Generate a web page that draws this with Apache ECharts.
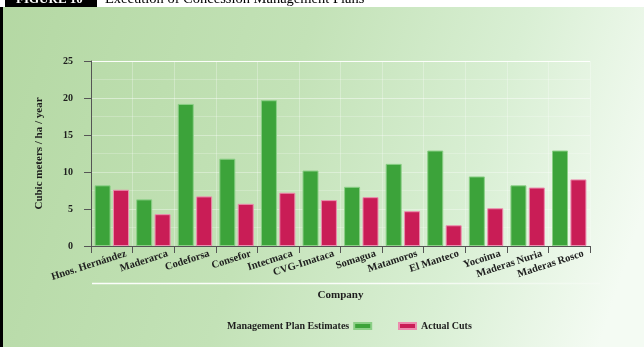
<!DOCTYPE html>
<html>
<head>
<meta charset="utf-8">
<style>
  html, body { margin: 0; padding: 0; background: #fff; }
  #chart { width: 644px; height: 347px; }
</style>
<script src="https://cdn.jsdelivr.net/npm/echarts@6/dist/echarts.min.js"></script>
</head>
<body>
<div id="chart"></div>
<script>
// Concession companies and harvest figures (cubic meters / ha / year)
const companies = [
  'Hnos. Hernández', 'Maderarca', 'Codeforsa', 'Consefor', 'Intecmaca',
  'CVG-Imataca', 'Somagua', 'Matamoros', 'El Manteco', 'Yocoima',
  'Maderas Nuria', 'Maderas Rosco'
];
const planEstimates = [8.2, 6.3, 19.2, 11.8, 19.7, 10.2, 8.0, 11.1, 12.9, 9.4, 8.2, 12.9];
const actualCuts    = [7.6, 4.3, 6.7, 5.7, 7.2, 6.2, 6.6, 4.7, 2.8, 5.1, 7.9, 9.0];
const yTicks = { min: 0, max: 25, interval: 5 };

const SERIF = '"Liberation Serif", "DejaVu Serif", serif';
const INK = '#1e1e1e';

const chart = echarts.init(document.getElementById('chart'));

chart.setOption({
  animation: false,
  backgroundColor: {
    type: 'linear', x: 0, y: 0, x2: 1, y2: 0.6,
    colorStops: [
      { offset: 0, color: '#b4d8a3' },
      { offset: 0.45, color: '#c3e2b7' },
      { offset: 0.75, color: '#d9efd4' },
      { offset: 1, color: '#f4fbf3' }
    ]
  },
  grid: { left: 91, right: 54, top: 61, bottom: 101 },
  legend: [
    {
      data: ['Management Plan Estimates'],
      left: 222, top: 316,
      align: 'right',
      itemWidth: 17, itemHeight: 6, itemGap: 8,
      icon: 'rect',
      textStyle: { fontFamily: SERIF, fontWeight: 'bold', fontSize: 10, color: INK }
    },
    {
      data: ['Actual Cuts'],
      left: 393, top: 316,
      align: 'left',
      itemWidth: 17, itemHeight: 6,
      icon: 'rect',
      textStyle: { fontFamily: SERIF, fontWeight: 'bold', fontSize: 10, color: INK }
    }
  ],
  xAxis: {
    type: 'category',
    data: companies,
    name: 'Company',
    nameLocation: 'middle',
    nameGap: 44,
    nameTextStyle: { fontFamily: SERIF, fontWeight: 'bold', fontSize: 11, color: INK },
    axisLine: { lineStyle: { color: '#555', width: 1 } },
    axisTick: { show: true, length: 7, lineStyle: { color: '#555' } },
    axisLabel: {
      interval: 0, rotate: 18, margin: 12,
      padding: [0, -15, 0, 0],
      fontFamily: SERIF, fontWeight: 'bold', fontSize: 10.5, color: INK
    },
    splitLine: { show: true, lineStyle: { color: 'rgba(255,255,255,0.28)', width: 1 } }
  },
  yAxis: {
    type: 'value',
    min: yTicks.min, max: yTicks.max, interval: yTicks.interval,
    name: 'Cubic meters / ha / year',
    nameLocation: 'middle',
    nameGap: 46,
    nameTextStyle: { fontFamily: SERIF, fontWeight: 'bold', fontSize: 11, color: INK },
    axisLine: { show: true, lineStyle: { color: '#555', width: 1 } },
    axisTick: { show: true, length: 7, lineStyle: { color: '#555' } },
    axisLabel: { margin: 18, fontFamily: SERIF, fontWeight: 'bold', fontSize: 10, color: INK },
    splitLine: {
      show: true,
      lineStyle: {
        width: 1,
        color: ['rgba(255,255,255,0)', 'rgba(255,255,255,0.35)', 'rgba(255,255,255,0.35)',
                'rgba(255,255,255,0.35)', 'rgba(255,255,255,0.45)', 'rgba(255,255,255,0.95)']
      }
    },
    minorTick: { show: false, splitNumber: 2 },
    minorSplitLine: { show: true, lineStyle: { color: 'rgba(255,255,255,0.22)' } }
  },
  series: [
    {
      name: 'Management Plan Estimates',
      type: 'bar',
      data: planEstimates,
      barWidth: 16,
      barGap: '15%',
      itemStyle: { color: '#3ca33a', borderColor: '#8bcf86', borderWidth: 1 }
    },
    {
      name: 'Actual Cuts',
      type: 'bar',
      data: actualCuts,
      barWidth: 16,
      itemStyle: { color: '#c91d56', borderColor: '#ec8cae', borderWidth: 1 }
    }
  ],
  graphic: [
    // white header strip
    { type: 'rect', left: 0, top: 0, z: 10, shape: { width: 644, height: 7 }, style: { fill: '#fff' } },
    // black figure tag
    { type: 'rect', left: 5, top: 0, z: 11, shape: { width: 92, height: 7 }, style: { fill: '#000' } },
    { type: 'text', left: 16, top: -7, z: 12,
      style: { text: 'FIGURE 10', fill: '#fff', font: 'bold 13px ' + SERIF } },
    { type: 'text', left: 105, top: -8, z: 12,
      style: { text: 'Execution of Concession Management Plans', fill: '#000', font: '14.5px ' + SERIF } },
    // black left border
    { type: 'rect', left: 0, top: 7, z: 10, shape: { width: 3, height: 340 }, style: { fill: '#000' } },
    // white separator under the axis labels
    { type: 'line', z: 5, shape: { x1: 92, y1: 283.5, x2: 600, y2: 283.5 },
      style: { stroke: {
        type: 'linear', x: 0, y: 0, x2: 1, y2: 0,
        colorStops: [
          { offset: 0, color: 'rgba(255,255,255,0.95)' },
          { offset: 0.6, color: 'rgba(255,255,255,0.9)' },
          { offset: 1, color: 'rgba(255,255,255,0.2)' }
        ] }, lineWidth: 1.5 } }
  ]
});
</script>
</body>
</html>
